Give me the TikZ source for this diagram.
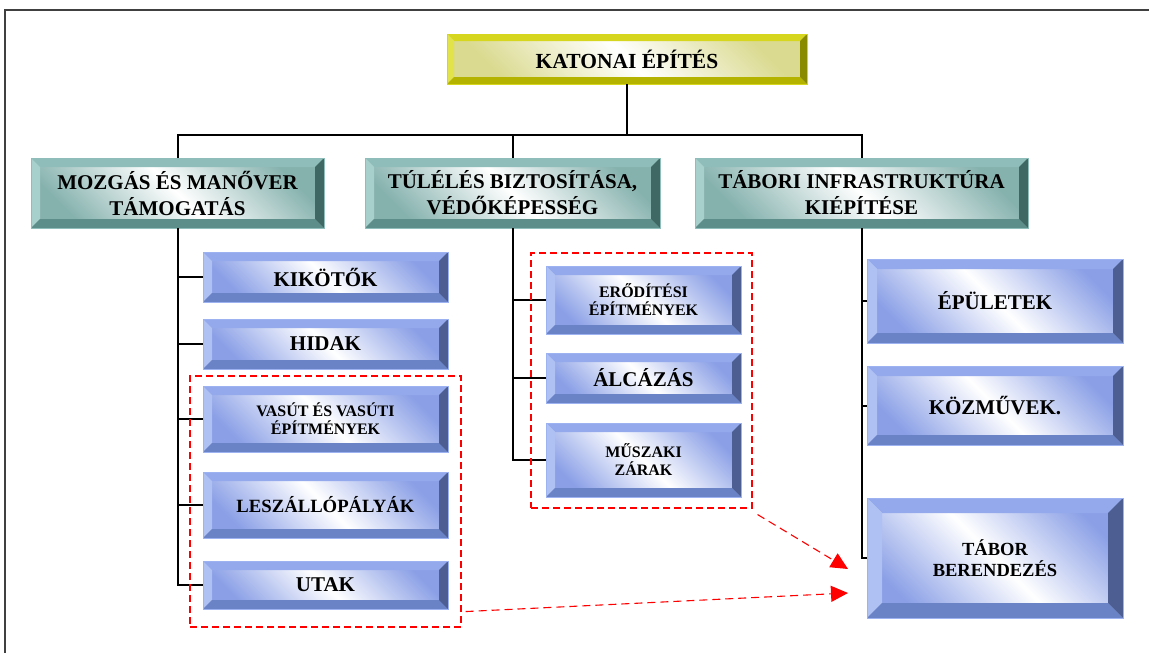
\documentclass[tikz,border=0pt]{standalone}
\usepackage{fontspec}
\setmainfont{Liberation Serif}
\usetikzlibrary{arrows.meta}

\definecolor{yl_top}{HTML}{D6D61E}
\definecolor{yl_left}{HTML}{E2E24A}
\definecolor{yl_bot}{HTML}{B3B300}
\definecolor{yl_right}{HTML}{8A8A00}
\definecolor{yl_shade}{HTML}{DADA90}
\definecolor{tl_top}{HTML}{8FBDB9}
\definecolor{tl_left}{HTML}{A7CFCB}
\definecolor{tl_bot}{HTML}{5E8E8A}
\definecolor{tl_right}{HTML}{3F6865}
\definecolor{tl_shade}{HTML}{86B2AE}
\definecolor{bl_top}{HTML}{93A9EC}
\definecolor{bl_left}{HTML}{AFC0F3}
\definecolor{bl_bot}{HTML}{6A82C6}
\definecolor{bl_right}{HTML}{4C5E92}
\definecolor{bl_shade}{HTML}{8A9FE6}
\definecolor{bl_line}{HTML}{9DB2F0}
\definecolor{frame_gray}{HTML}{404040}

% bevel edges: top, left, bottom, right, width
\newcommand{\bevelpaint}[5]{%
    \path (path picture bounding box.north west) coordinate (pnw)
          (path picture bounding box.north east) coordinate (pne)
          (path picture bounding box.south west) coordinate (psw)
          (path picture bounding box.south east) coordinate (pse)
          ([shift={(#5,-#5)}]path picture bounding box.north west) coordinate (qnw)
          ([shift={(-#5,-#5)}]path picture bounding box.north east) coordinate (qne)
          ([shift={(#5,#5)}]path picture bounding box.south west) coordinate (qsw)
          ([shift={(-#5,#5)}]path picture bounding box.south east) coordinate (qse);
    \fill[#1] (pnw) -- (pne) -- (qne) -- (qnw) -- cycle;
    \fill[#2] (pnw) -- (qnw) -- (qsw) -- (psw) -- cycle;
    \fill[#3] (psw) -- (qsw) -- (qse) -- (pse) -- cycle;
    \fill[#4] (pse) -- (qse) -- (qne) -- (pne) -- cycle;
}

\tikzset{
        box_base/.style = {rectangle, align=center, inner sep=0pt, outer sep=0pt,
            text=black},
        box_top/.style = {box_base, draw=yl_top, line width=0.6pt,
            top color=yl_shade, bottom color=yl_shade, middle color=white,
            shading angle=-45,
            path picture={\bevelpaint{yl_top}{yl_left}{yl_bot}{yl_right}{7pt}},
            font=\bfseries\fontsize{21.5}{24}\selectfont},
        box_teal/.style = {box_base, draw=tl_top, line width=0.6pt,
            minimum height=70pt,
            top color=tl_shade, bottom color=tl_shade, middle color=white,
            shading angle=-45,
            path picture={\bevelpaint{tl_top}{tl_left}{tl_bot}{tl_right}{9pt}},
            font=\bfseries\fontsize{21}{26}\selectfont},
        box_blue/.style = {box_base, draw=bl_line, line width=0.6pt,
            top color=bl_shade, bottom color=bl_shade, middle color=white,
            shading angle=-45,
            path picture={\bevelpaint{bl_top}{bl_left}{bl_bot}{bl_right}{#1}}},
        box_blue/.default = 9pt,
        big_txt/.style = {font=\bfseries\fontsize{21}{24}\selectfont},
        mid_txt/.style = {font=\bfseries\fontsize{18.7}{22}\selectfont},
        small_txt/.style = {font=\bfseries\fontsize{16}{18}\selectfont},
        conn/.style = {line width=2pt, black},
        grp/.style = {draw=red, line width=1.1pt, dash pattern=on 7pt off 4pt,
            inner sep=0pt},
        red_arr/.style = {red, line width=1.1pt, dash pattern=on 8pt off 5pt,
            -{Triangle[length=17pt,width=16pt]}}
    }

\begin{document}
\begin{tikzpicture}[x=1pt, y=-1pt]
    \useasboundingbox (0,0) rectangle (1149,653);
    \clip (0,0) rectangle (1149,653);
    \draw[frame_gray, line width=1.6pt] (5,10) rectangle (1170,680);

    % ROOT
    \node (katonai) [box_top, minimum width=360pt, minimum height=50pt] at (627,59) {KATONAI ÉPÍTÉS};

    % second level
    \node (mozgas) [box_teal, minimum width=293pt] at (177.5,193) {MOZGÁS ÉS MANŐVER\\TÁMOGATÁS};
    \node (tulel) [box_teal, minimum width=295pt] at (512.5,193) {TÚLÉLÉS BIZTOSÍTÁSA,\\VÉDŐKÉPESSÉG};
    \node (tabori) [box_teal, minimum width=333pt] at (861.5,193) {TÁBORI INFRASTRUKTÚRA\\KIÉPÍTÉSE};

    % left column
    \node (kikotok) [box_blue, big_txt, minimum width=245pt, minimum height=50pt] at (325.5,277) {KIKÖTŐK};
    \node (hidak) [box_blue, big_txt, minimum width=245pt, minimum height=50pt] at (325.5,344) {HIDAK};
    \node (vasut) [box_blue, small_txt, minimum width=245pt, minimum height=66pt] at (325.5,419) {VASÚT ÉS VASÚTI\\ÉPÍTMÉNYEK};
    \node (leszall) [box_blue, mid_txt, minimum width=245pt, minimum height=66pt] at (325.5,505) {LESZÁLLÓPÁLYÁK};
    \node (utak) [box_blue, big_txt, minimum width=245pt, minimum height=48pt] at (325.5,585) {UTAK};

    % middle column
    \node (erodit) [box_blue, small_txt, minimum width=195pt, minimum height=68pt] at (643.5,300) {ERŐDÍTÉSI\\ÉPÍTMÉNYEK};
    \node (alcazas) [box_blue, big_txt, minimum width=195pt, minimum height=50pt] at (643.5,378) {ÁLCÁZÁS};
    \node (muszaki) [box_blue, small_txt, minimum width=195pt, minimum height=74pt] at (643.5,460) {MŰSZAKI\\ZÁRAK};

    % right column
    \node (epulet) [box_blue=10pt, big_txt, minimum width=256pt, minimum height=84pt] at (995,301) {ÉPÜLETEK};
    \node (kozmu) [box_blue=10pt, big_txt, minimum width=256pt, minimum height=79pt] at (995,405.5) {KÖZMŰVEK.};
    \node (tabor) [box_blue=15pt, font=\bfseries\fontsize{18.5}{21}\selectfont, minimum width=256pt, minimum height=120pt] at (995,558) {TÁBOR\\BERENDEZÉS};

    % tree lines
    \coordinate (bus) at (627,135);
    \draw[conn] (katonai.south) -- (bus);
    \draw[conn] (mozgas.north) |- (bus) -| (tabori.north);
    \draw[conn] (bus -| tulel.north) -- (tulel.north);
    \foreach \c in {kikotok, hidak, vasut, leszall, utak}
        \draw[conn] (mozgas.south) |- (\c.west);
    \foreach \c in {erodit, alcazas, muszaki}
        \draw[conn] (tulel.south) |- (\c.west);
    \foreach \c in {epulet, kozmu, tabor}
        \draw[conn] (tabori.south) |- (\c.west);

    % grouped items
    \node (grp_left) [grp, minimum width=271pt, minimum height=251pt] at (325.5,501.5) {};
    \node (grp_mid) [grp, minimum width=221pt, minimum height=255pt] at (641.5,380.5) {};
    \coordinate (tip_a) at (848,569);
    \coordinate (tip_b) at (848,593);
    \draw[red_arr] ([xshift=5pt,yshift=-6pt]grp_mid.south east) -- (tip_a);
    \draw[red_arr] ([xshift=4pt,yshift=16pt]grp_left.south east) -- (tip_b);
\end{tikzpicture}
\end{document}
